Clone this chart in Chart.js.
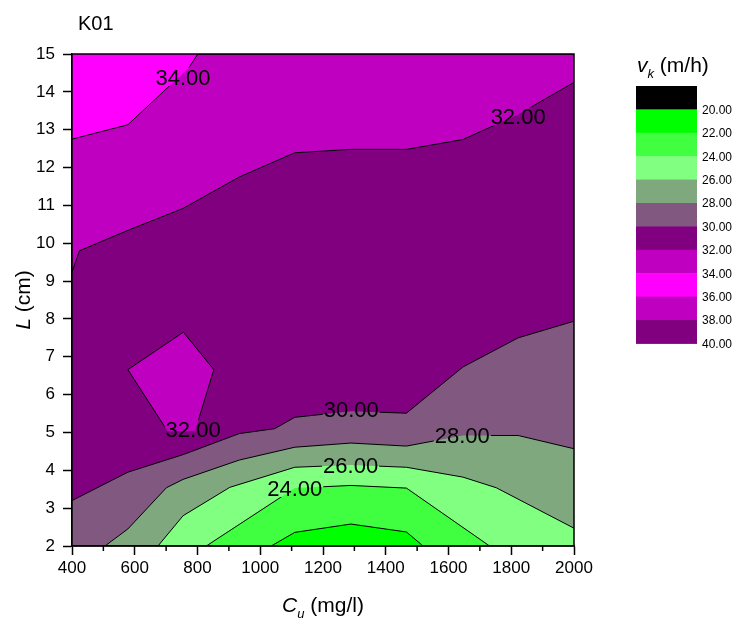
<!DOCTYPE html>
<html><head><meta charset="utf-8">
<script src="https://cdn.jsdelivr.net/npm/chart.js@4.4.1/dist/chart.umd.min.js"></script>
<style>html,body{margin:0;padding:0;background:#fff;}#wrap{width:733px;height:620px;}</style>
</head><body><div id="wrap"><canvas id="c" width="733" height="620"></canvas></div>
<script>
// ---- data ----
const xTicks = [400, 600, 800, 1000, 1200, 1400, 1600, 1800, 2000];
const xMinorTicks = [500, 700, 900, 1100, 1300, 1500, 1700, 1900];
const yTicks = [2, 3, 4, 5, 6, 7, 8, 9, 10, 11, 12, 13, 14, 15];
const levels = [20, 22, 24, 26, 28, 30, 32, 34, 36, 38, 40];
const levelColors = ['#000000', '#00ff00', '#40ff40', '#80ff80', '#7fa87f', '#805880', '#800080', '#c000c0', '#ff00ff', '#c000c0', '#800080'];

// contour lines (x = Cu mg/l, y = L cm)
const baseX = [400, 2000];
const baseY = [2, 2];
const c22X = [400, 1035, 1110, 1289, 1466, 1519, 2000];
const c22Y = [2, 2, 2.36, 2.58, 2.37, 2, 2];
const c24X = [400, 828, 1110, 1289, 1466, 1731, 2000];
const c24Y = [2, 2, 3.53, 3.6, 3.53, 2, 2];
const c26X = [400, 674, 754, 903, 1110, 1289, 1466, 1646, 1752, 2000];
const c26Y = [2, 2, 2.8, 3.55, 4.08, 4.14, 4.08, 3.82, 3.54, 2.47];
const c28X = [400, 505, 578, 701, 754, 933, 1110, 1289, 1466, 1646, 1822, 2000];
const c28Y = [2, 2, 2.45, 3.54, 3.76, 4.27, 4.61, 4.72, 4.64, 4.92, 4.92, 4.57];
const c30X = [400, 578, 756, 933, 1046, 1110, 1289, 1466, 1646, 1822, 2000];
const c30Y = [3.2, 3.95, 4.42, 4.97, 5.1, 5.4, 5.56, 5.51, 6.73, 7.5, 7.94];
const c32X = [400, 424, 578, 754, 933, 1110, 1289, 1466, 1646, 1822, 2000];
const c32Y = [9.24, 9.8, 10.34, 10.92, 11.75, 12.39, 12.48, 12.48, 12.74, 13.4, 14.25];
const c34X = [400, 578, 772, 801, 2000];
const c34Y = [12.75, 13.13, 14.63, 15, 15];
const islandX = [578, 755, 852, 792, 705, 578];
const islandY = [6.66, 7.65, 6.66, 5.03, 5.03, 6.66];

// contour labels
const labelText = ['34.00', '32.00', '32.00', '30.00', '28.00', '26.00', '24.00'];
const labelX = [754, 1822, 786, 1290, 1644, 1288, 1110];
const labelY = [14.39, 13.35, 5.1, 5.63, 4.92, 4.15, 3.53];

// ---- build ----
const FONT = '"Liberation Sans", Arial, Helvetica, sans-serif';
const pts = (xs, ys) => xs.map((x, i) => ({x: x, y: ys[i]}));
const bands = [
  {d: pts(baseX, baseY), c: levelColors[1], fill: 'end', bw: 0},
  {d: pts(c22X, c22Y), c: levelColors[2], fill: 'end', bw: 1},
  {d: pts(c24X, c24Y), c: levelColors[3], fill: 'end', bw: 1},
  {d: pts(c26X, c26Y), c: levelColors[4], fill: 'end', bw: 1},
  {d: pts(c28X, c28Y), c: levelColors[5], fill: 'end', bw: 1},
  {d: pts(c30X, c30Y), c: levelColors[6], fill: 'end', bw: 1},
  {d: pts(islandX, islandY), c: levelColors[7], fill: 'shape', bw: 1},
  {d: pts(c32X, c32Y), c: levelColors[7], fill: 'end', bw: 1},
  {d: pts(c34X, c34Y), c: levelColors[8], fill: 'end', bw: 1}
];
const datasets = bands.map((b, i) => ({
  data: b.d, backgroundColor: b.c, borderColor: '#000', borderWidth: b.bw,
  fill: b.fill, pointRadius: 0, tension: 0, order: bands.length - i
}));

function labelRects(chart) {
  const ctx = chart.ctx;
  ctx.save();
  ctx.font = '22px ' + FONT;
  const xs = chart.scales.x, ys = chart.scales.y;
  const r = labelText.map((t, i) => ({
    t: t, w: ctx.measureText(t).width,
    cx: xs.getPixelForValue(labelX[i]), cy: ys.getPixelForValue(labelY[i])
  }));
  ctx.restore();
  return r;
}

function drawRich(ctx, parts, x, y, align) {
  let total = 0;
  parts.forEach(p => {
    ctx.font = (p.it ? 'italic ' : '') + p.s + 'px ' + FONT;
    p.w = ctx.measureText(p.t).width; total += p.w;
  });
  let cx = align === 'center' ? x - total / 2 : x;
  ctx.textAlign = 'left'; ctx.textBaseline = 'alphabetic';
  parts.forEach(p => {
    ctx.font = (p.it ? 'italic ' : '') + p.s + 'px ' + FONT;
    ctx.fillText(p.t, cx, y + (p.dy || 0));
    cx += p.w;
  });
}

const contourPlugin = {
  id: 'contourExtras',
  beforeDatasetDraw(chart) {
    const ctx = chart.ctx;
    ctx.save();
    ctx.beginPath();
    ctx.rect(0, 0, chart.width, chart.height);
    labelRects(chart).forEach(r => ctx.rect(r.cx - r.w / 2 - 1, r.cy - 9, r.w + 2, 18));
    ctx.clip('evenodd');
  },
  afterDatasetDraw(chart) { chart.ctx.restore(); },
  afterDraw(chart) {
    const ctx = chart.ctx, a = chart.chartArea, xs = chart.scales.x;
    ctx.save();
    // contour labels
    ctx.fillStyle = '#000';
    ctx.font = '22px ' + FONT;
    ctx.textAlign = 'center'; ctx.textBaseline = 'alphabetic';
    labelRects(chart).forEach(r => ctx.fillText(r.t, r.cx, r.cy + 8));
    // frame
    ctx.strokeStyle = '#000'; ctx.lineWidth = 1.5;
    ctx.strokeRect(a.left, a.top, a.right - a.left, a.bottom - a.top);
    // minor ticks
    ctx.beginPath();
    xMinorTicks.forEach(v => { const px = xs.getPixelForValue(v); ctx.moveTo(px, a.bottom); ctx.lineTo(px, a.bottom + 5); });
    ctx.stroke();
    // titles
    ctx.fillStyle = '#000';
    ctx.font = '20px ' + FONT; ctx.textAlign = 'left'; ctx.textBaseline = 'alphabetic';
    ctx.fillText('K01', 78, 30);
    drawRich(ctx, [{t: 'C', it: true, s: 21}, {t: 'u', it: true, s: 13, dy: 6}, {t: ' (mg/l)', s: 21}], (a.left + a.right) / 2, 612, 'center');
    ctx.save();
    ctx.translate(30, (a.top + a.bottom) / 2);
    ctx.rotate(-Math.PI / 2);
    drawRich(ctx, [{t: 'L', it: true, s: 21}, {t: ' (cm)', s: 21}], 0, 0, 'center');
    ctx.restore();
    // legend
    drawRich(ctx, [{t: 'v', it: true, s: 21}, {t: 'k', it: true, s: 13, dy: 6}, {t: ' (m/h)', s: 21}], 637, 72, 'left');
    const lx = 636, lw = 61, top = 86, bh = 23.4;
    levelColors.forEach((c, i) => { ctx.fillStyle = c; ctx.fillRect(lx, top + i * bh, lw, bh + 0.5); });
    ctx.fillStyle = '#000'; ctx.font = '12px ' + FONT; ctx.textAlign = 'left'; ctx.textBaseline = 'middle';
    levels.forEach((v, i) => ctx.fillText(v.toFixed(2), 702, top + (i + 1) * bh + 1));
    ctx.restore();
  }
};

const tickFont = {family: FONT, size: 17};
new Chart(document.getElementById('c'), {
  type: 'line',
  data: {datasets: datasets},
  options: {
    responsive: false, animation: false, devicePixelRatio: 1,
    layout: {padding: {left: 0, top: 54, right: 159, bottom: 0}},
    plugins: {legend: {display: false}, tooltip: {enabled: false}, filler: {drawTime: 'beforeDatasetsDraw'}},
    elements: {point: {radius: 0}, line: {tension: 0}},
    scales: {
      x: {
        type: 'linear', min: 400, max: 2000,
        afterBuildTicks: s => { s.ticks = xTicks.map(v => ({value: v})); },
        afterFit: s => { s.height = 74; },
        ticks: {autoSkip: false, maxRotation: 0, font: tickFont, color: '#000', padding: 3, callback: v => String(v)},
        grid: {drawOnChartArea: false, drawTicks: true, tickLength: 9, tickColor: '#000', tickWidth: 1.5},
        border: {display: true, color: '#000', width: 1.5}
      },
      y: {
        type: 'linear', min: 2, max: 15,
        afterBuildTicks: s => { s.ticks = yTicks.map(v => ({value: v})); },
        afterFit: s => { s.width = 72; },
        ticks: {autoSkip: false, font: tickFont, color: '#000', padding: 8, callback: v => String(v)},
        grid: {drawOnChartArea: false, drawTicks: true, tickLength: 9, tickColor: '#000', tickWidth: 1.5},
        border: {display: true, color: '#000', width: 1.5}
      }
    }
  },
  plugins: [contourPlugin]
});
</script>
</body></html>
